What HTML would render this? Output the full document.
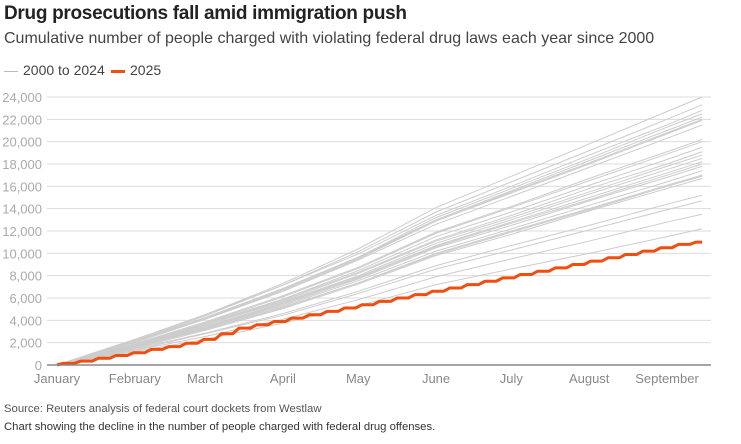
<!DOCTYPE html>
<html><head><meta charset="utf-8"><style>
body{margin:0;width:741px;height:444px;background:#fff;font-family:"Liberation Sans",sans-serif;overflow:hidden;position:relative}
.t{position:absolute;white-space:nowrap}
</style></head><body>
<div class="t" style="left:4px;top:3px;font-size:19px;font-weight:bold;color:#222;letter-spacing:-0.3px">Drug prosecutions fall amid immigration push</div>
<div class="t" style="left:4px;top:30px;font-size:16px;color:#444">Cumulative number of people charged with violating federal drug laws each year since 2000</div>
<div class="t" style="left:4px;top:62px;font-size:14px;color:#444"><span style="display:inline-block;width:14px;height:1px;background:#bbb;vertical-align:middle;margin-right:5px"></span>2000 to 2024</div>
<div class="t" style="left:111px;top:62px;font-size:14px;color:#444"><span style="display:inline-block;width:14px;height:3px;background:#f04e0f;vertical-align:middle;margin-right:5px"></span>2025</div>
<svg id="chart" width="741" height="444" style="position:absolute;left:0;top:0"></svg>
<div class="t" style="left:4px;top:403px;font-size:11.3px;color:#555">Source: Reuters analysis of federal court dockets from Westlaw</div>
<div class="t" style="left:4px;top:421px;font-size:11.3px;color:#333">Chart showing the decline in the number of people charged with federal drug offenses.</div>
<script>
const yTicks=[0,2000,4000,6000,8000,10000,12000,14000,16000,18000,20000,22000,24000];
const months=["January","February","March","April","May","June","July","August","September"];
const monthDays=[0,31,59,90,120,151,181,212,243];
const greyDays=[0,31,59,90,120,151,181,212,243,257];
const grey2000to2024=[
[0,2250,4500,7300,10400,14100,16900,19800,22700,24000],
[0,2150,4400,7150,10150,13700,16400,19200,22000,23300],
[0,2300,4500,7150,9950,13400,16000,18800,21500,22800],
[0,2100,4200,6800,9650,13200,15800,18500,21300,22500],
[0,2150,4250,6850,9650,13000,15600,18300,21000,22200],
[0,2000,4100,6600,9500,12900,15400,18000,20700,21900],
[0,2100,4200,6600,9400,12600,15100,17700,20300,21500],
[0,1900,3850,6200,8750,11900,14200,16700,19100,20200],
[0,1850,3600,5850,8300,11200,13400,15800,18000,19100],
[0,1750,3550,5750,8200,11100,13200,15500,17800,18800],
[0,1850,3600,5650,8000,10900,13000,15300,17500,18500],
[0,1700,3450,5550,7900,10700,12800,15000,17200,18200],
[0,1700,3350,5400,7700,10500,12500,14700,16800,17800],
[0,1600,3300,5300,7550,10200,12200,14300,16400,17400],
[0,1600,3200,5200,7350,10000,12000,14000,16100,17000],
[0,1500,3100,5050,7250,9800,11700,13800,15800,16700],
[0,1450,2850,4600,6600,8900,10700,12500,14400,15200],
[0,1350,2800,4450,6400,8600,10300,12100,13900,14700],
[0,1300,2550,4100,5850,7900,9500,11100,12800,13500],
[0,1200,2300,3750,5300,7200,8600,10000,11500,12200],
[0,2100,4200,6700,9600,12900,15500,18100,20800,22000],
[0,1850,3750,6100,8650,11800,14100,16500,18900,20000],
[0,1850,3700,5900,8450,11500,13700,16100,18400,19500],
[0,1700,3350,5500,7800,10600,12700,14800,17000,18000],
[0,1600,3200,5150,7350,9900,11900,13900,16000,16900]];
const days2025=[0,7,14,21,28,35,42,49,56,63,70,77,84,91,98,105,112,119,126,133,140,147,154,161,168,175,182,189,196,203,210,217,224,231,238,245,252,257];
const values2025=[0,150,350,600,850,1100,1400,1650,1950,2300,2800,3300,3600,3900,4200,4500,4800,5100,5400,5700,6000,6300,6600,6900,7200,7500,7800,8100,8400,8700,9000,9300,9600,9900,10200,10500,10800,11000];

const NS="http://www.w3.org/2000/svg";
const svg=document.getElementById('chart');
const x=d=>57+d*(667-57)/243;
const y=v=>365-v*(365-97)/24000;
function mk(tag,attrs){const e=document.createElementNS(NS,tag);for(const k in attrs)e.setAttribute(k,attrs[k]);svg.appendChild(e);return e;}
yTicks.forEach(t=>{
  if(t>0){const g=mk('line',{x1:47,x2:711,y1:y(t),y2:y(t),stroke:'#dcdcdc','stroke-width':1});
  
  }
  const l=mk('text',{x:42,y:y(t)+5,'text-anchor':'end','font-size':13,fill:'#aaa','font-family':'Liberation Sans, sans-serif'});
  l.textContent=t.toLocaleString('en-US');
  
  
});
months.forEach((m,i)=>{
  const l=mk('text',{x:x(monthDays[i]),y:383,'text-anchor':'middle','font-size':13,fill:'#888','font-family':'Liberation Sans, sans-serif'});
  l.textContent=m;
  
  
});
grey2000to2024.forEach(s=>{
  const p=mk('polyline',{points:s.map((v,i)=>x(greyDays[i])+','+y(v)).join(' '),fill:'none',stroke:'#cccccc','stroke-width':1});
  
  
});
let pts=[];
values2025.forEach((v,i)=>{
  if(i>0){pts.push(x(days2025[i-1]+2.5)+','+y(v));}
  pts.push(x(days2025[i])+','+y(v));
});
const o=mk('polyline',{points:pts.join(' '),fill:'none',stroke:'#f04e0f','stroke-width':3,'stroke-linejoin':'round'});


const b=mk('line',{x1:47,x2:711,y1:365,y2:365,stroke:'#888','stroke-width':1.5});


</script>
</body></html>
